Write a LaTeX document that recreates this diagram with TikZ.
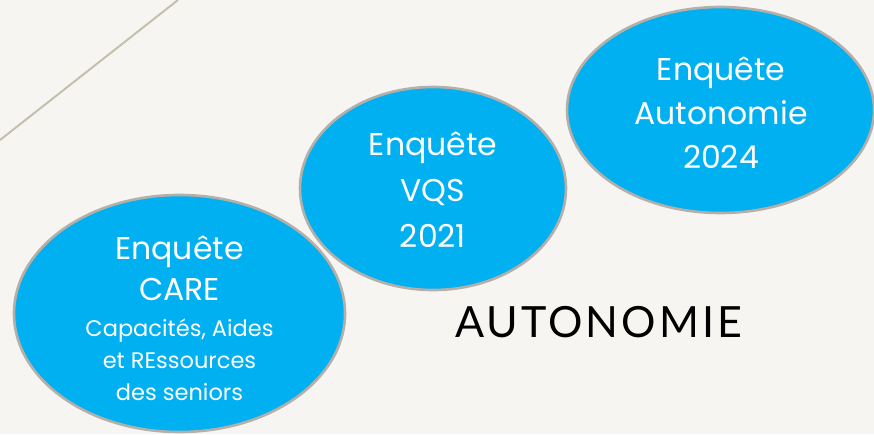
\documentclass[tikz,border=0pt]{standalone}
\usepackage{fontspec}
\setmainfont{Poppins}
\newfontfamily\titlefont[LetterSpace=7]{Lato}
\usetikzlibrary{shapes.geometric}
\definecolor{bg}{HTML}{F7F5F2}
\definecolor{bubble}{HTML}{00B0F0}
\definecolor{rim}{HTML}{B5AFAA}
\definecolor{diag}{HTML}{C4C0AE}
\tikzset{
  bubblebox/.style={ellipse, draw=rim, line width=2.6pt, fill=bubble, inner sep=0pt},
  bigtxt/.style={text=white, align=center, font=\fontsize{31.5}{44}\selectfont},
}
\begin{document}
\begin{tikzpicture}[x=1pt,y=-1pt]
\fill[bg] (0,0) rectangle (874,434);
\useasboundingbox (0,0) rectangle (874,434);
\coordinate (d1) at (0,140);
\coordinate (d2) at (178,0);
\draw[diag, line width=2pt] (d1) -- (d2);
\node[bubblebox, minimum width=331pt, minimum height=237pt] (care) at (179.5,313.5) {};
\node[bubblebox, minimum width=266pt, minimum height=203pt] (vqs) at (433,188.5) {};
\node[bubblebox, minimum width=307pt, minimum height=206pt] (auto) at (720.5,110) {};
\node[text=white, align=center, font=\fontsize{31.5}{41}\selectfont] (caretxt) at (179.5,318)
  {Enquête\\CARE\\[-5pt]{\fontsize{22.5}{32}\selectfont Capacités, Aides}\\[-9pt]{\fontsize{22.5}{32}\selectfont et REssources}\\[-9pt]{\fontsize{22.5}{32}\selectfont des seniors}};
\node[bigtxt, font=\fontsize{31.5}{46}\selectfont] (vqstxt) at (433,190) {Enquête\\VQS\\2021};
\node[bigtxt] (autotxt) at (721,113) {Enquête\\Autonomie\\2024};
\node[font=\titlefont\fontsize{43}{50}\selectfont, text=black, anchor=base west, inner sep=0pt] (title) at (455,337) {AUTONOMIE};
\end{tikzpicture}
\end{document}
